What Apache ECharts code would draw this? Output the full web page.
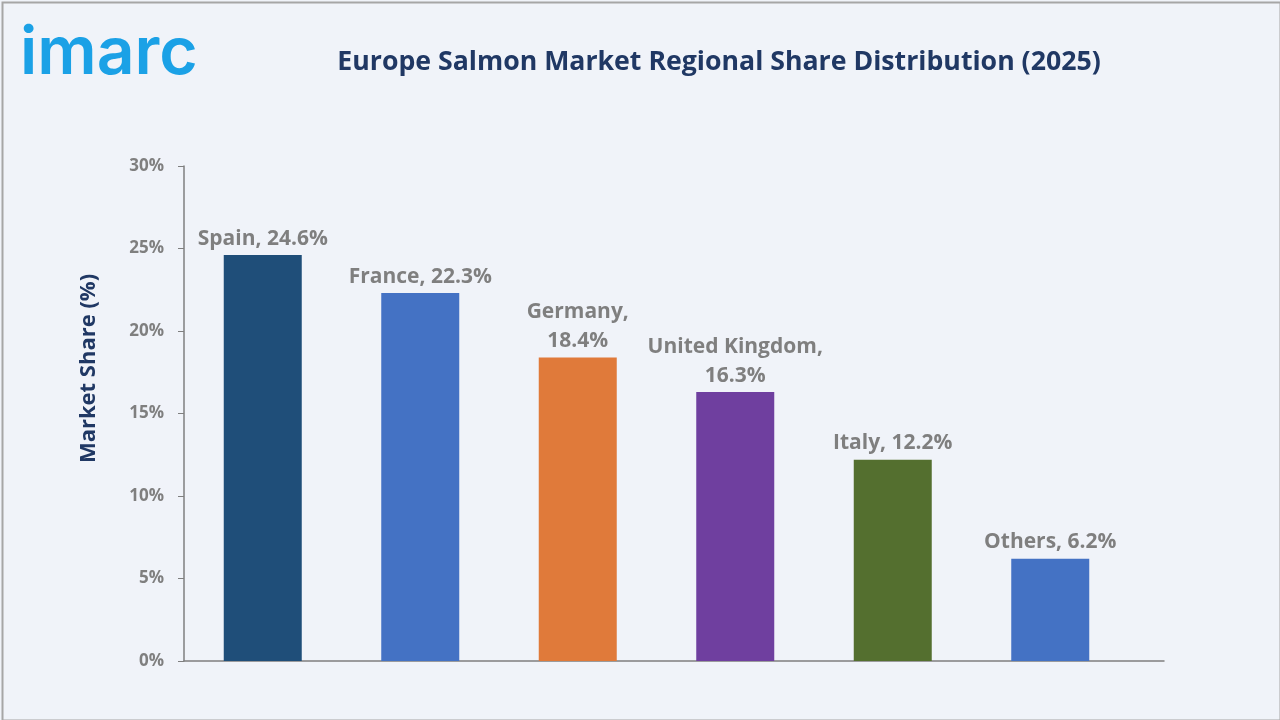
<!DOCTYPE html>
<html><head><meta charset="utf-8">
<script src="https://cdn.jsdelivr.net/npm/echarts@6/dist/echarts.min.js"></script>
<style>html,body{margin:0;padding:0;background:#f0f3f9;}#c{width:1280px;height:720px;}</style>
</head><body><div id="c"></div>
<script>
const categories = ['Spain', 'France', 'Germany', 'United Kingdom', 'Italy', 'Others'];
const shares = [24.6, 22.3, 18.4, 16.3, 12.2, 6.2];
const labelTexts = ['Spain, 24.6%', 'France, 22.3%', 'Germany,\n18.4%', 'United Kingdom,\n16.3%', 'Italy, 12.2%', 'Others, 6.2%'];
const barColors = ['#1f4e79', '#4472c4', '#e07a3a', '#6f3f9f', '#546f2f', '#4472c4'];
const yTicks = [0, 5, 10, 15, 20, 25, 30];

const chart = echarts.init(document.getElementById('c'));
chart.setOption({
  backgroundColor: '#f0f3f9',
  animation: false,
  title: {
    text: 'Europe Salmon Market Regional Share Distribution (2025)',
    left: 714, top: 44, textAlign: 'center',
    textStyle: {fontFamily: 'Open Sans', fontWeight: 'bold', fontSize: 26.7, color: '#203864'}
  },
  graphic: [
    {type: 'rect', left: 0, top: 0, shape: {width: 1278, height: 718}, style: {fill: 'none', stroke: '#a6a6a6', lineWidth: 2}},
    {type: 'text', left: 20, top: 21, style: {text: 'imarc', fontFamily: 'Inter', fontWeight: 600, fontSize: 66, fill: '#1ba1e6'}}
  ],
  grid: [
    {left: 184, top: 166, width: 945, height: 495},
    {left: 184, top: 166, width: 980, height: 495}
  ],
  xAxis: [
    {type: 'category', data: categories, gridIndex: 0, axisLine: {show: false}, axisTick: {show: false}, axisLabel: {show: false}},
    {type: 'value', gridIndex: 1, min: 0, max: 1, axisLine: {show: true, lineStyle: {color: '#7f7f7f', width: 1.5}}, axisTick: {show: false}, axisLabel: {show: false}, splitLine: {show: false}}
  ],
  yAxis: [
    {
      type: 'value', gridIndex: 0, min: yTicks[0], max: yTicks[yTicks.length - 1], interval: 5,
      name: 'Market Share (%)', nameLocation: 'middle', nameGap: 84, nameRotate: 90,
      nameTextStyle: {fontFamily: 'Open Sans', fontWeight: 'bold', fontSize: 22, color: '#203864', padding: [0, 0, 0, 90]},
      axisLine: {show: true, lineStyle: {color: '#7f7f7f', width: 1.5}},
      axisTick: {show: true, length: 6, lineStyle: {color: '#7f7f7f'}},
      axisLabel: {formatter: '{value}%', margin: 20, fontFamily: 'Open Sans', fontWeight: 'bold', fontSize: 17, color: '#7f7f7f'},
      splitLine: {show: false}
    },
    {type: 'value', gridIndex: 1, min: 0, max: 1, show: false}
  ],
  series: [{
    type: 'bar', xAxisIndex: 0, yAxisIndex: 0, barWidth: 78,
    data: shares.map((v, i) => ({value: v, itemStyle: {color: barColors[i]}})),
    label: {
      show: true, position: 'top', distance: 2,
      formatter: p => labelTexts[p.dataIndex],
      fontFamily: 'Open Sans', fontWeight: 'bold', fontSize: 21, color: '#7f7f7f', lineHeight: 29, align: 'center'
    }
  }]
});
</script></body></html>
